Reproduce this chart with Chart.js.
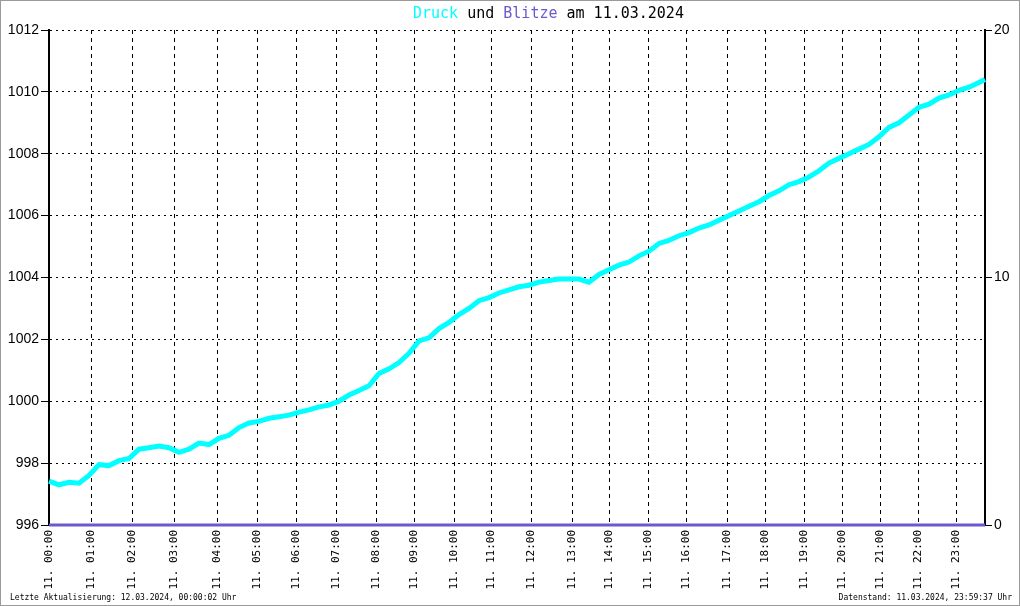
<!DOCTYPE html>
<html>
<head>
<meta charset="utf-8">
<script src="https://cdn.jsdelivr.net/npm/chart.js@4"></script>
<style>
  body { margin: 0; background: #fff; }
  #wrap { position: relative; width: 1020px; height: 606px; }
  #frame { position: absolute; left: 0; top: 0; width: 1020px; height: 606px; box-sizing: border-box; border: 1px solid #9a9a9a; pointer-events: none; }
  .title { position: absolute; top: 4px; left: 413px; font: 15px 'DejaVu Sans Mono', monospace; color: #000; white-space: pre; }
  .foot { position: absolute; top: 593px; font: 8px 'DejaVu Sans Mono', monospace; color: #000; }
</style>
</head>
<body>
<div id="wrap">
  <canvas id="chart" width="1020" height="606"></canvas>
  <div class="title"><span style="color:#00ffff">Druck</span> und <span style="color:#6a5acd">Blitze</span> am 11.03.2024</div>
  <div class="foot" style="left:10px">Letzte Aktualisierung: 12.03.2024, 00:00:02 Uhr</div>
  <div class="foot" style="right:8px">Datenstand: 11.03.2024, 23:59:37 Uhr</div>
  <div id="frame"></div>
</div>
<script>
// x axis is the sample index of the logger, hours start at these indices
const hourIdx = [0, 42, 83, 125, 168, 208, 247, 287, 327, 365, 405, 442,
  482, 523, 560, 599, 637, 678, 716, 755, 793, 831, 869, 907];
const hourLabels = ['11. 00:00', '11. 01:00', '11. 02:00', '11. 03:00', '11. 04:00', '11. 05:00',
  '11. 06:00', '11. 07:00', '11. 08:00', '11. 09:00', '11. 10:00', '11. 11:00',
  '11. 12:00', '11. 13:00', '11. 14:00', '11. 15:00', '11. 16:00', '11. 17:00',
  '11. 18:00', '11. 19:00', '11. 20:00', '11. 21:00', '11. 22:00', '11. 23:00'];
const lastIdx = 936;
const sampleStep = 10;

// pressure in hPa, one reading every 10 samples (last one at lastIdx)
const druck = [
  997.42, 997.30, 997.38, 997.35, 997.60, 997.95, 997.92, 998.08, 998.15, 998.45,
  998.50, 998.55, 998.50, 998.35, 998.45, 998.65, 998.60, 998.80, 998.90, 999.15,
  999.30, 999.35, 999.45, 999.50, 999.55, 999.65, 999.72, 999.82, 999.88, 1000.00,
  1000.20, 1000.35, 1000.50, 1000.90, 1001.05, 1001.25, 1001.55, 1001.95, 1002.05, 1002.35,
  1002.55, 1002.80, 1003.00, 1003.25, 1003.35, 1003.50, 1003.60, 1003.70, 1003.75, 1003.85,
  1003.90, 1003.95, 1003.95, 1003.95, 1003.85, 1004.10, 1004.25, 1004.40, 1004.50, 1004.70,
  1004.85, 1005.10, 1005.20, 1005.35, 1005.45, 1005.60, 1005.70, 1005.85, 1006.00, 1006.15,
  1006.30, 1006.45, 1006.65, 1006.80, 1007.00, 1007.10, 1007.25, 1007.45, 1007.70, 1007.85,
  1008.00, 1008.15, 1008.30, 1008.55, 1008.85, 1009.00, 1009.25, 1009.50, 1009.60, 1009.80,
  1009.90, 1010.05, 1010.15, 1010.30, 1010.40
];
// lightning count per hour (none that day)
const blitze = [0, 0, 0, 0, 0, 0, 0, 0, 0, 0, 0, 0, 0, 0, 0, 0, 0, 0, 0, 0, 0, 0, 0, 0];

const druckPoints = druck.map((v, i) => ({ x: Math.min(i * sampleStep, lastIdx), y: v }));
const blitzPoints = blitze.map((v, i) => ({ x: hourIdx[i], y: v }));
blitzPoints.push({ x: lastIdx, y: blitze[blitze.length - 1] });

const tickFont = { family: "'Liberation Sans', Arial, sans-serif", size: 14 };

new Chart(document.getElementById('chart').getContext('2d'), {
  type: 'line',
  data: {
    datasets: [
      {
        label: 'Druck',
        data: druckPoints,
        yAxisID: 'y',
        borderColor: '#00ffff',
        borderWidth: 5,
        borderJoinStyle: 'miter',
        pointRadius: 0,
        clip: 6,
      },
      {
        label: 'Blitze',
        data: blitzPoints,
        yAxisID: 'y1',
        borderColor: '#6a5acd',
        borderWidth: 3,
        pointRadius: 0,
        clip: 6,
      },
    ],
  },
  options: {
    responsive: false,
    animation: false,
    layout: { padding: { top: 30, left: 0, right: 0, bottom: 0 } },
    plugins: {
      legend: { display: false },
      tooltip: { enabled: false },
    },
    scales: {
      x: {
        type: 'linear',
        min: 0,
        max: lastIdx,
        afterBuildTicks: (scale) => {
          scale.ticks = hourIdx.map((v) => ({ value: v }));
        },
        afterFit: (scale) => { scale.height = 81; },
        ticks: {
          autoSkip: false,
          minRotation: 90,
          maxRotation: 90,
          padding: 5,
          color: '#000',
          font: { family: "'DejaVu Sans Mono', monospace", size: 11 },
          callback: (value, index) => hourLabels[index],
        },
        grid: { color: '#000', lineWidth: 1, drawTicks: false },
        border: { display: true, color: '#000', width: 2, dash: [4, 4] },
      },
      y: {
        position: 'left',
        min: 996,
        max: 1012,
        afterFit: (scale) => { scale.width = 49; },
        ticks: { stepSize: 2, padding: 2, color: '#000', font: tickFont, callback: (v) => String(v) },
        grid: { color: '#000', lineWidth: 1, tickLength: 8, tickBorderDash: [] },
        border: { display: true, color: '#000', width: 2, dash: [2, 4] },
      },
      y1: {
        position: 'right',
        min: 0,
        max: 20,
        afterFit: (scale) => { scale.width = 35; },
        ticks: { stepSize: 10, padding: 2, color: '#000', font: tickFont, callback: (v) => String(v) },
        grid: { drawOnChartArea: false, color: '#000', tickLength: 7 },
        border: { display: true, color: '#000', width: 2 },
      },
    },
  },
});
</script>
</body>
</html>
